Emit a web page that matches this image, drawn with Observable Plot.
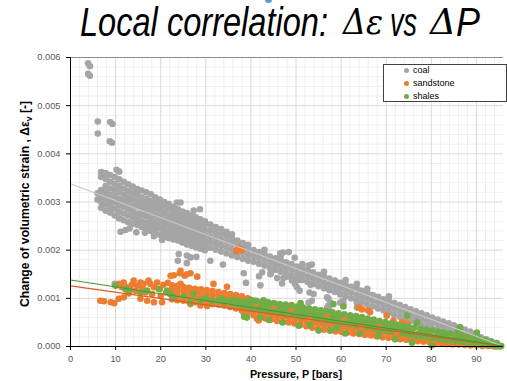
<!DOCTYPE html>
<html>
<head>
<meta charset="utf-8">
<script src="https://cdn.jsdelivr.net/npm/d3@7"></script>
<script src="https://cdn.jsdelivr.net/npm/@observablehq/plot@0.6"></script>
<style>
  html, body { margin: 0; padding: 0; background: #fff; }
  #wrap { position: relative; width: 507px; height: 381px; overflow: hidden; font-family: "Liberation Sans", Arial, sans-serif; }
  #title { position: relative; width: 507px; height: 50px; }
  .tpart { position: absolute; white-space: nowrap; line-height: 1; transform-origin: 0 0; color: #000; }
  #legend { position: absolute; left: 383px; top: 64px; width: 122px; height: 36px; border: 1px solid #404040; background: #fff; }
  .lg-dot { position: absolute; width: 5px; height: 5px; border-radius: 50%; }
  .lg-txt { position: absolute; font: 9px "Liberation Sans", Arial, sans-serif; line-height: 12px; color: #000; white-space: nowrap; }
</style>
</head>
<body>
<div id="wrap">
  <div id="title"></div>
  <div id="chart"></div>
  <div id="legend"></div>
</div>
<script>
// ---------------- data ----------------
const seriesNames = ["coal", "sandstone", "shales"];
const seriesColors = ["#a5a5a5", "#ed7d31", "#70ad47"];
const xTicks = [0, 10, 20, 30, 40, 50, 60, 70, 80, 90];
const yTicks = [0, 0.001, 0.002, 0.003, 0.004, 0.005, 0.006];

// coal: dense band read column by column [pressure, [strains...]]
const coalBand = [
[6.0,[0.00305,0.00318]],
[6.8,[0.00288,0.00300,0.00312,0.00325,0.00352,0.00362]],
[7.8,[0.00282,0.00295,0.00308,0.00320,0.00333,0.00348,0.00360]],
[8.8,[0.00278,0.00290,0.00302,0.00315,0.00328,0.00342,0.00356]],
[9.8,[0.00272,0.00286,0.00299,0.00312,0.00325,0.00338,0.00352]],
[10.8,[0.00266,0.00280,0.00293,0.00306,0.00320,0.00333,0.00347]],
[11.8,[0.00262,0.00276,0.00290,0.00302,0.00315,0.00328,0.00342]],
[12.8,[0.00258,0.00272,0.00285,0.00298,0.00310,0.00323,0.00337]],
[13.8,[0.00255,0.00268,0.00280,0.00293,0.00306,0.00319,0.00332]],
[14.8,[0.00252,0.00264,0.00276,0.00290,0.00302,0.00315,0.00327]],
[15.8,[0.00248,0.00260,0.00273,0.00286,0.00298,0.00310,0.00324]],
[16.8,[0.00245,0.00257,0.00270,0.00282,0.00294,0.00306,0.00320]],
[17.8,[0.00240,0.00253,0.00265,0.00278,0.00290,0.00302,0.00316]],
[18.8,[0.00236,0.00248,0.00260,0.00273,0.00286,0.00298,0.00310]],
[19.8,[0.00232,0.00245,0.00257,0.00269,0.00282,0.00294,0.00305]],
[20.8,[0.00228,0.00240,0.00252,0.00264,0.00277,0.00290,0.00300]],
[21.8,[0.00225,0.00237,0.00249,0.00260,0.00272,0.00285,0.00296]],
[22.8,[0.00222,0.00234,0.00246,0.00257,0.00268,0.00280,0.00290]],
[23.8,[0.00220,0.00231,0.00242,0.00253,0.00264,0.00275,0.00285]],
[24.8,[0.00216,0.00227,0.00238,0.00249,0.00260,0.00271,0.00280]],
[25.8,[0.00212,0.00223,0.00234,0.00245,0.00256,0.00268,0.00277]],
[26.8,[0.00209,0.00220,0.00231,0.00242,0.00253,0.00263,0.00272]],
[27.8,[0.00206,0.00217,0.00228,0.00239,0.00249,0.00260,0.00268]],
[28.8,[0.00203,0.00214,0.00225,0.00235,0.00246,0.00256,0.00264]],
[29.8,[0.00200,0.00211,0.00222,0.00232,0.00242,0.00252,0.00260]],
[31.0,[0.00205,0.00217,0.00229,0.00241,0.00253]],
[32.2,[0.00201,0.00213,0.00225,0.00237,0.00248]],
[33.4,[0.00197,0.00209,0.00221,0.00233,0.00244]],
[34.6,[0.00193,0.00205,0.00217,0.00229,0.00238]],
[35.8,[0.00189,0.00201,0.00213,0.00224,0.00233]],
[37.0,[0.00186,0.00198,0.00210,0.00220]],
[38.2,[0.00182,0.00194,0.00205,0.00215]],
[39.4,[0.00178,0.00190,0.00201,0.00211]],
[40.6,[0.00176,0.00188,0.00200]],
[41.8,[0.00172,0.00184,0.00196]],
[43.0,[0.00168,0.00180,0.00192,0.00201]],
[44.2,[0.00163,0.00175,0.00187]],
[45.4,[0.00159,0.00171,0.00183]],
[46.6,[0.00155,0.00167,0.00179,0.00188]],
[47.8,[0.00151,0.00163,0.00175]],
[49.0,[0.00147,0.00159,0.00171]],
[50.2,[0.00142,0.00154,0.00166]],
[51.4,[0.00138,0.00150,0.00162,0.00171]],
[52.6,[0.00134,0.00146,0.00158]],
[53.8,[0.00130,0.00142,0.00154]],
[55.0,[0.00125,0.00137,0.00149]],
[56.2,[0.00121,0.00133,0.00145,0.00155]],
[57.4,[0.00117,0.00129,0.00141]],
[58.6,[0.00113,0.00125,0.00137]],
[59.8,[0.00108,0.00120,0.00132]],
[61.0,[0.00104,0.00116,0.00128,0.00138]],
[62.2,[0.00100,0.00112,0.00124]],
[63.4,[0.00096,0.00108,0.00120]],
[64.6,[0.00091,0.00103,0.00115]],
[65.8,[0.00087,0.00099,0.00111,0.00120]],
[67.0,[0.00083,0.00095,0.00107]],
[68.2,[0.00079,0.00091,0.00103]],
[69.4,[0.00075,0.00087,0.00098]],
[70.6,[0.00070,0.00082,0.00094,0.00104]],
[71.8,[0.00066,0.00078,0.00090]],
[73.0,[0.00062,0.00074,0.00086]],
[74.2,[0.00058,0.00070,0.00082]],
[75.4,[0.00053,0.00065,0.00077]],
[76.6,[0.00049,0.00061,0.00073]],
[77.8,[0.00045,0.00057,0.00069]],
[79.0,[0.00041,0.00053,0.00065]],
[80.2,[0.00037,0.00049,0.00060]],
[81.4,[0.00036,0.00047,0.00056]],
[82.6,[0.00032,0.00043,0.00052]],
[83.8,[0.00028,0.00039,0.00048]],
[85.0,[0.00024,0.00035,0.00044]],
[86.2,[0.00020,0.00031,0.00040]],
[87.4,[0.00016,0.00026,0.00035]],
[88.6,[0.00012,0.00022,0.00031]],
[89.8,[0.00008,0.00018,0.00027]],
[91.0,[0.00010,0.00019]],
[92.2,[0.00006,0.00015]],
[93.4,[0.00002,0.00010]],
[94.6,[0.00000,0.00005]],
[95.4,[0.00001]]
];
// coal: isolated points [pressure, strain]
const coalScatter = [
[3.9,0.00588],[4.3,0.00582],[3.9,0.00566],[4.3,0.00562],[6.05,0.00467],[6.05,0.00442],
[8.8,0.00466],[9.3,0.00462],[8.7,0.00426],[9.2,0.00423],[10.2,0.00367],[10.8,0.00363],
[11.1,0.00238],[12.2,0.00242],[13.1,0.00245],[14.6,0.00237],[16.5,0.00236],[18.5,0.00229],[20.3,0.00221],
[23.6,0.00299],[24.4,0.00299],[27.3,0.00282],[28.7,0.00285],
[24.0,0.00192],[25.8,0.00189],[26.6,0.00185],[27.9,0.00186],[23.8,0.00178],[25.8,0.00173],[31.0,0.00178],[33.8,0.00170],
[38.4,0.00152],[38.9,0.00132],[41.8,0.00146],[42.5,0.00154],[44.4,0.00152],[42.1,0.00127],[45.8,0.00142],[46.9,0.00131],
[47.2,0.00142],[48.0,0.00145],[49.1,0.00137],[50.9,0.00138],[50.2,0.00123],[50.8,0.00116],[53.2,0.00128],[52.8,0.00168],
[53.5,0.00170],[47.1,0.00195],[48.4,0.00196],[46.5,0.00193],[49.7,0.00184],[53.0,0.00112],[53.5,0.00095],[52.8,0.00091],
[53.9,0.00109],[56.9,0.00123],[57.2,0.00099],[57.6,0.00091],[59.4,0.00116],[60.5,0.00126],[60.5,0.00095],[62.0,0.00116],
[63.5,0.00130],[64.2,0.00116],[63.5,0.00091],[49.8,0.00130],[44.3,0.00150],[57.2,0.00085],[56.9,0.00102],[56.9,0.00081],
[57.3,0.00079],[59.8,0.00091],[60.5,0.00087],[63.5,0.00081],[9.8,0.00130],[10.5,0.00128]
];

const sandstoneBand = [
[22.5,[0.00098,0.00108,0.00118,0.00127]],
[23.7,[0.00096,0.00106,0.00116,0.00126]],
[25.0,[0.00095,0.00105,0.00115,0.00124]],
[26.3,[0.00093,0.00103,0.00113,0.00122]],
[27.6,[0.00092,0.00102,0.00112,0.00120]],
[28.9,[0.00091,0.00100,0.00110,0.00119]],
[30.2,[0.00089,0.00099,0.00108,0.00117]],
[31.5,[0.00088,0.00097,0.00106,0.00115]],
[32.8,[0.00087,0.00096,0.00105,0.00113]],
[34.1,[0.00085,0.00094,0.00103,0.00111]],
[35.4,[0.00082,0.00092,0.00101,0.00109]],
[36.7,[0.00079,0.00089,0.00098,0.00107]],
[38.0,[0.00075,0.00085,0.00095,0.00104]],
[39.3,[0.00070,0.00080,0.00090,0.00100]],
[40.6,[0.00065,0.00075,0.00085,0.00095]],
[41.9,[0.00061,0.00071,0.00081,0.00091]],
[43.2,[0.00058,0.00068,0.00078,0.00088]],
[44.5,[0.00056,0.00066,0.00076,0.00086]],
[45.8,[0.00053,0.00063,0.00073,0.00083]],
[47.1,[0.00051,0.00061,0.00071,0.00081]],
[48.4,[0.00050,0.00060,0.00070,0.00079]],
[49.7,[0.00048,0.00058,0.00068,0.00077]],
[51.0,[0.00045,0.00055,0.00065,0.00074]],
[52.3,[0.00042,0.00052,0.00062,0.00071]],
[53.6,[0.00039,0.00049,0.00059,0.00068]],
[54.9,[0.00037,0.00047,0.00057,0.00066]],
[56.2,[0.00035,0.00045,0.00055,0.00064]],
[57.5,[0.00033,0.00043,0.00053,0.00062]],
[58.8,[0.00031,0.00041,0.00051,0.00060]],
[60.1,[0.00030,0.00040,0.00049,0.00058]],
[61.4,[0.00029,0.00038,0.00047,0.00056]],
[62.7,[0.00027,0.00036,0.00045,0.00054]],
[64.0,[0.00026,0.00035,0.00044,0.00052]],
[65.3,[0.00024,0.00033,0.00042,0.00050]],
[66.6,[0.00023,0.00032,0.00041,0.00048]],
[67.9,[0.00021,0.00030,0.00039,0.00046]],
[69.2,[0.00019,0.00028,0.00037,0.00044]],
[70.5,[0.00018,0.00027,0.00035,0.00042]],
[71.8,[0.00017,0.00025,0.00033]],
[73.1,[0.00015,0.00023,0.00031]],
[74.4,[0.00014,0.00022,0.00030]],
[75.7,[0.00012,0.00020,0.00028]],
[77.0,[0.00011,0.00019,0.00026]],
[78.3,[0.00010,0.00017,0.00024]],
[79.6,[0.00009,0.00016,0.00023]],
[80.9,[0.00007,0.00014,0.00021]],
[82.2,[0.00006,0.00013,0.00019]],
[83.5,[0.00005,0.00011,0.00017]],
[84.8,[0.00004,0.00010,0.00015]],
[86.1,[0.00004,0.00009,0.00014]],
[87.4,[0.00003,0.00007,0.00012]],
[88.7,[0.00002,0.00006,0.00010]],
[90.0,[0.00002,0.00005,0.00008]],
[91.3,[0.00001,0.00004]],
[92.6,[0.00001,0.00003]],
[93.9,[0.00000,0.00002]],
[95.2,[0.00000]]
];
const sandstoneScatter = [
[6.6,0.00095],[7.4,0.00094],[8.9,0.00092],[9.7,0.00090],
[10.7,0.00130],[11.8,0.00133],[11.4,0.00123],[12.5,0.00123],[11.8,0.00102],[10.7,0.00099],[14.0,0.00137],[14.8,0.00126],
[15.5,0.00133],[15.9,0.00123],[16.2,0.00130],[16.6,0.00112],[17.3,0.00137],[17.7,0.00130],[18.5,0.00123],[19.2,0.00133],
[18.1,0.00109],[15.5,0.00099],[17.0,0.00095],[18.5,0.00092],[20.3,0.00092],[13.2,0.00117],[13.6,0.00128],[19.8,0.00120],
[20.6,0.00128],[21.2,0.00112],[21.6,0.00132],[12.9,0.00110],[14.4,0.00115],[20.0,0.00105],
[22.2,0.00147],[22.9,0.00148],[24.4,0.00157],[24.2,0.00152],[24.4,0.00130],[25.3,0.00147],[25.8,0.00150],[26.6,0.00152],
[28.1,0.00145],[31.7,0.00130],[34.7,0.00124],[37.2,0.00205],[37.9,0.00200],[36.8,0.00198],
[26.6,0.00088],[28.8,0.00085],[30.3,0.00084],[38.4,0.00070],[41.3,0.00058],[41.7,0.00054],
[63.9,0.00081],[64.6,0.00077],[66.0,0.00075],[66.4,0.00071],[70.1,0.00064],[71.6,0.00054],[73.5,0.00050],[74.6,0.00047],[49.0,0.00086]
];

const shalesBand = [
[36.0,[0.00088,0.00097]],
[37.3,[0.00086,0.00095]],
[38.6,[0.00084,0.00093]],
[39.9,[0.00080,0.00089,0.00097]],
[41.2,[0.00078,0.00095]],
[42.5,[0.00076,0.00085,0.00093]],
[43.8,[0.00074,0.00083,0.00092]],
[45.1,[0.00072,0.00090]],
[46.4,[0.00070,0.00079,0.00088]],
[47.7,[0.00068,0.00077,0.00087]],
[49.0,[0.00066,0.00085]],
[50.3,[0.00064,0.00073,0.00083]],
[51.6,[0.00062,0.00071,0.00081]],
[52.9,[0.00069,0.00079]],
[54.2,[0.00058,0.00067,0.00077]],
[55.5,[0.00056,0.00065,0.00075]],
[56.8,[0.00054,0.00073]],
[58.1,[0.00052,0.00061,0.00071]],
[59.4,[0.00050,0.00059,0.00069]],
[60.7,[0.00048,0.00067]],
[62.0,[0.00046,0.00055,0.00065]],
[63.3,[0.00044,0.00053,0.00063]],
[64.6,[0.00051,0.00061]],
[65.9,[0.00040,0.00049,0.00058]],
[67.2,[0.00038,0.00047,0.00056]],
[68.5,[0.00035,0.00053]],
[69.8,[0.00033,0.00042,0.00051]],
[71.1,[0.00031,0.00040,0.00048]],
[72.4,[0.00037,0.00045]],
[73.7,[0.00027,0.00035,0.00043]],
[75.0,[0.00025,0.00033,0.00041]],
[76.3,[0.00023,0.00039]],
[77.6,[0.00021,0.00029,0.00037]],
[78.9,[0.00020,0.00028,0.00035]],
[80.2,[0.00018,0.00033]],
[81.5,[0.00016,0.00024,0.00031]],
[82.8,[0.00014,0.00022,0.00029]],
[84.1,[0.00013,0.00027]],
[85.4,[0.00011,0.00018,0.00025]],
[86.7,[0.00010,0.00017,0.00023]],
[88.0,[0.00008,0.00021]],
[89.3,[0.00007,0.00013,0.00019]],
[90.6,[0.00005,0.00011,0.00017]],
[91.9,[0.00004,0.00014]],
[93.2,[0.00002,0.00007,0.00011]],
[94.5,[0.00001,0.00004,0.00007]],
[95.5,[0.00001]]
];
const shalesScatter = [
[9.96,0.00126],[12.2,0.00119],[12.9,0.00116],[15.5,0.00112],[17.0,0.00116],[19.6,0.00119],[21.4,0.00116],[22.1,0.00109],
[22.9,0.00102],[25.1,0.00105],[26.6,0.00091],[27.3,0.00109],[28.8,0.00096],[30.0,0.00100],[31.4,0.00095],[32.8,0.00095],
[33.5,0.00099],[34.0,0.00092],[34.7,0.00095],
[39.1,0.00060],[38.5,0.00062],[42.1,0.00060],[44.0,0.00055],[47.0,0.00050],[50.6,0.00043],[53.0,0.00045],[55.0,0.00033],
[57.6,0.00033],[59.0,0.00038],[60.9,0.00027],[64.2,0.00027],[68.3,0.00022],[72.0,0.00015],[75.7,0.00008],[80.1,0.00002],
[40.6,0.00095],[42.8,0.00096],[51.0,0.00090],[58.3,0.00088],[60.5,0.00083],[74.6,0.00064],[76.8,0.00050],[86.0,0.00036],
[86.4,0.00040],[90.1,0.00029]
];

// linear trend lines (end points)
const trendPressure = [0, 96];
const coalTrend = [0.00338, 0.00000];
const sandstoneTrend = [0.00126, 0.00000];
const shalesTrend = [0.00138, 0.00001];
const trendColors = ["#c9c9c9", "#d4601f", "#4f9430"];

// ---------------- build tables ----------------
function rows(band, scatter, series) {
  const out = [];
  for (const [p, ss] of band) for (const s of ss) out.push({p, s, series});
  for (const [p, s] of scatter) out.push({p, s, series});
  return out;
}
const points = [
  ...rows(coalBand, coalScatter, "coal"),
  ...rows(sandstoneBand, sandstoneScatter, "sandstone"),
  ...rows(shalesBand, shalesScatter, "shales")
];
const trends = [coalTrend, sandstoneTrend, shalesTrend].flatMap((t, i) =>
  trendPressure.map((p, j) => ({p, s: t[j], series: seriesNames[i]})));

const xMinor = d3.range(2, 96, 2).filter(v => v % 10 !== 0);
const yMinor = d3.range(1, 30).map(i => i * 0.0002).filter((v, i) => (i + 1) % 5 !== 0);

const colorOf = Object.fromEntries(seriesNames.map((n, i) => [n, seriesColors[i]]));
const trendColorOf = Object.fromEntries(seriesNames.map((n, i) => [n, trendColors[i]]));

// ---------------- plot ----------------
const chart = Plot.plot({
  width: 507,
  height: 331,
  marginTop: 7,
  marginLeft: 70,
  marginRight: 4,
  marginBottom: 35,
  style: {fontFamily: "'Liberation Sans', Arial, sans-serif", background: "#fff", overflow: "visible"},
  x: {domain: [0, 96]},
  y: {domain: [0, 0.006]},
  marks: [
    Plot.ruleX(xMinor, {stroke: "#efefef"}),
    Plot.ruleY(yMinor, {stroke: "#efefef"}),
    Plot.ruleX(xTicks.slice(1), {stroke: "#d9d9d9"}),
    Plot.ruleY(yTicks.slice(1, 6), {stroke: "#d9d9d9"}),
    ...seriesNames.map(name => Plot.dot(points.filter(d => d.series === name), {
      x: "p", y: "s", r: 3.3, fill: colorOf[name], stroke: null
    })),
    ...seriesNames.map(name => Plot.line(trends.filter(d => d.series === name), {
      x: "p", y: "s", stroke: trendColorOf[name], strokeWidth: 1.2
    })),
    Plot.ruleY([0.006], {stroke: "#8c8c8c"}),
    Plot.axisX({ticks: xTicks, tickSize: 4, tickPadding: 5, color: "#595959", label: null}),
    Plot.axisY({ticks: yTicks, tickSize: 4, tickPadding: 6, color: "#595959", tickFormat: d3.format(".3f"), label: null}),
    Plot.ruleX([0], {stroke: "#000"}),
    Plot.ruleY([0], {stroke: "#000"})
  ]
});
document.getElementById("chart").appendChild(chart);

const svg = d3.select(chart);
svg.selectAll('[aria-label="x-axis tick"], [aria-label="y-axis tick"]').attr("stroke", "#000");
svg.selectAll('[aria-label="x-axis tick label"], [aria-label="y-axis tick label"]')
  .attr("font-size", 9.3).attr("fill", "#595959");

// axis titles
svg.append("text")
  .attr("x", 296).attr("y", 327.5)
  .attr("text-anchor", "middle")
  .attr("font-size", 10.8).attr("font-weight", "bold").attr("fill", "#000")
  .text("Pressure, P [bars]");
const yl = svg.append("text")
  .attr("transform", "translate(29,154) rotate(-90)")
  .attr("text-anchor", "middle")
  .attr("font-size", 12.2).attr("font-weight", "bold").attr("fill", "#000");
yl.append("tspan").text("Change of volumetric strain , ");
yl.append("tspan").text("Δε");
yl.append("tspan").attr("font-size", 8.5).attr("dy", 2.8).text("v");
yl.append("tspan").attr("dy", -2.8).text(" [-]");

// ---------------- title ----------------
const title = document.getElementById("title");
function part(text, family, size, left, width, baseline, asc) {
  const s = document.createElement("span");
  s.className = "tpart";
  s.textContent = text;
  s.style.font = `italic ${size}px ${family}`;
  s.style.lineHeight = size + "px";
  s.style.left = left + "px";
  s.style.top = (baseline - asc * size) + "px";
  title.appendChild(s);
  const w = s.getBoundingClientRect().width;
  s.style.transform = `scaleX(${width / w})`;
}
const sans = "'Liberation Sans', Arial, sans-serif";
const serif = "'DejaVu Serif', 'Liberation Serif', serif";
part("Local correlation:", sans, 41, 80, 248, 37, 0.8465);
part("Δε", serif, 36, 343, 40, 37, 0.928);
part("vs", sans, 41, 390, 27, 37, 0.8465);
part("Δ", serif, 36, 430, 26, 37, 0.928);
part("P", sans, 41, 456, 24, 37, 0.8465);
const blip = document.createElement("div");
blip.style.cssText = "position:absolute;left:265px;top:-3px;width:7px;height:6px;border-radius:50%;background:#5b9bd5;";
title.appendChild(blip);

// ---------------- legend ----------------
const legend = document.getElementById("legend");
seriesNames.forEach((name, i) => {
  const cy = [5.5, 18.2, 31.2][i];
  const dot = document.createElement("div");
  dot.className = "lg-dot";
  dot.style.left = "19.5px";
  dot.style.top = (cy - 2.5) + "px";
  dot.style.background = seriesColors[i];
  legend.appendChild(dot);
  const t = document.createElement("div");
  t.className = "lg-txt";
  t.style.left = "29px";
  t.style.top = (cy - 6.5) + "px";
  t.textContent = name;
  legend.appendChild(t);
});
</script>
</body>
</html>
